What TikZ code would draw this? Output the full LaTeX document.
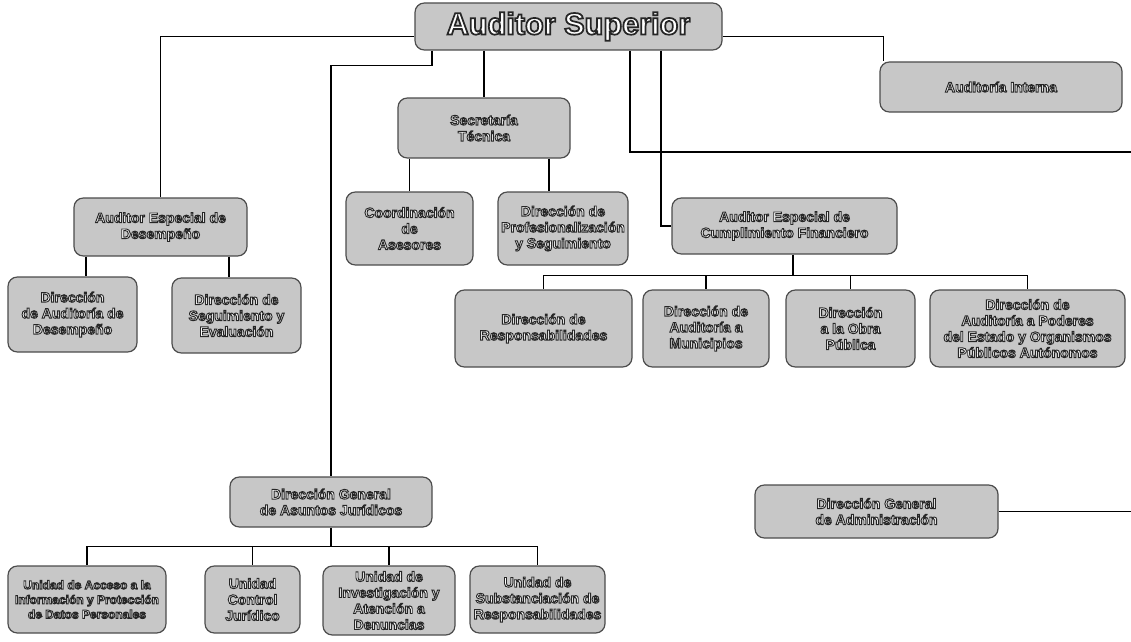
\documentclass[tikz,border=0pt]{standalone}
\usepackage{fontspec}
\setmainfont{Liberation Sans}
\usetikzlibrary{calc}
\newcommand\ct[1]{\special{pdf:literal direct 0.15 0.15 0.15 RG 0.7 w 2 Tr}#1\special{pdf:literal direct 0 Tr}}
\newcommand\obox[7][]{\node[ob,#1, minimum width={(#5-#3)*0.75pt}, minimum height={(#6-#4)*0.75pt}] (#2) at ({(#3+#5)/2},{(#4+#6)/2}) {#7};}
\tikzset{
  ob/.style={draw=black!70, line width=0.9pt, fill=black!22, rounded corners=7pt, align=center, text=white,
    font=\fontsize{10.5}{12}\selectfont\bfseries, inner sep=1pt},
  cn/.style={draw=black, line width=0.9pt}
}
\begin{document}
\begin{tikzpicture}[x=0.75pt,y=-0.75pt]
\useasboundingbox (0,0) rectangle (1131,642);
\obox{sup}{415}{3}{722}{50}{\fontsize{23}{26}\selectfont\special{pdf:literal direct 0.15 0.15 0.15 RG 1.3 w 2 Tr}Auditor Superior\special{pdf:literal direct 0 Tr}}
\obox{ai}{880}{62}{1122}{112}{\ct{Auditoría Interna}}
\obox{aed}{74}{198}{247}{256}{\ct{Auditor Especial de}\\\ct{Desempeño}}
\obox{daud}{8}{277}{137}{352}{\ct{Dirección}\\\ct{de Auditoría de}\\\ct{Desempeño}}
\obox{dse}{172}{278}{301}{353}{\ct{Dirección de}\\\ct{Seguimiento y}\\\ct{Evaluación}}
\obox{st}{398}{98}{570}{158}{\ct{Secretaría}\\\ct{Técnica}}
\obox{coa}{346}{192}{473}{265}{\ct{Coordinación}\\\ct{de}\\\ct{Asesores}}
\obox{dps}{498}{192}{628}{265}{\ct{Dirección de}\\\ct{Profesionalización}\\\ct{y Seguimiento}}
\obox{aecf}{672}{198}{897}{254}{\ct{Auditor Especial de}\\\ct{Cumplimiento Financiero}}
\obox{dr}{455}{290}{632}{367}{\ct{Dirección de}\\\ct{Responsabilidades}}
\obox{dam}{643}{290}{769}{367}{\ct{Dirección de}\\\ct{Auditoría a}\\\ct{Municipios}}
\obox{dop}{786}{290}{915}{367}{\ct{Dirección}\\\ct{a la Obra}\\\ct{Pública}}
\obox{dap}{930}{290}{1125}{367}{\ct{Dirección de}\\\ct{Auditoría a Poderes}\\\ct{del Estado y Organismos}\\\ct{Públicos Autónomos}}
\obox{daj}{230}{477}{432}{527}{\ct{Dirección General}\\\ct{de Asuntos Jurídicos}}
\obox{dga}{755}{485}{998}{538}{\ct{Dirección General}\\\ct{de Administración}}
\obox[font=\fontsize{9}{11}\selectfont\bfseries]{ua}{8}{566}{166}{633}{\ct{Unidad de Acceso a la}\\\ct{Información y Protección}\\\ct{de Datos Personales}}
\obox{ucj}{205}{566}{300}{633}{\ct{Unidad}\\\ct{Control}\\\ct{Jurídico}}
\obox{ui}{323}{566}{455}{635}{\ct{Unidad de}\\\ct{Investigación y}\\\ct{Atención a}\\\ct{Denuncias}}
\obox{us}{470}{566}{605}{633}{\ct{Unidad de}\\\ct{Substanciación de}\\\ct{Responsabilidades}}
% connectors
\draw[cn] ([yshift=-7.5pt]sup.west) -| (aed.north);
\draw[cn] ([yshift=-7.5pt]sup.east) -| ([xshift=3pt]ai.north west);
\draw[cn] ([xshift=-102.4pt]sup.south) -- ++(0,15) -| (daj.north);
\draw[cn] (sup.south -| st.north) -- (st.north);
\coordinate (edge1) at (1131,152);
\draw[cn] ([xshift=46.1pt]sup.south) |- (edge1);
\draw[cn] ([xshift=69.4pt]sup.south) |- (aecf.west);
\draw[cn] (st.south -| coa.north) -- (coa.north);
\draw[cn] ([xshift=48.75pt]st.south) coordinate (s2) -- (s2 |- dps.north);
\draw[cn] ([xshift=-55.9pt]aed.south) coordinate (a1) -- (a1 |- daud.north);
\draw[cn] ([xshift=51.4pt]aed.south) coordinate (a2) -- (a2 |- dse.north);
\draw[cn] ([xshift=6.4pt]aecf.south) coordinate (b0) -- ++(0,21) coordinate (b1);
\foreach \n in {dr,dam,dop,dap} \draw[cn] (b1) -| (\n.north);
\draw[cn] (daj.south) -- ++(0,19) coordinate (b2);
\foreach \n in {ua,ucj,ui,us} \draw[cn] (b2) -| (\n.north);
\coordinate (edge2) at (1131,511.5);
\draw[cn] (dga.east) -- (edge2);
\end{tikzpicture}
\end{document}
